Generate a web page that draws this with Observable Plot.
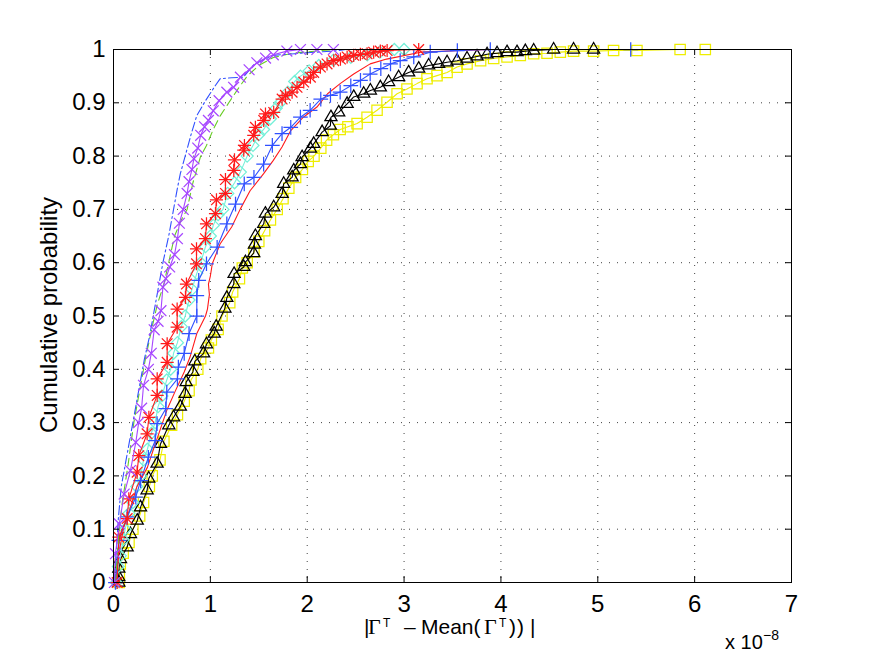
<!DOCTYPE html>
<html>
<head>
<meta charset="utf-8">
<script src="https://cdn.jsdelivr.net/npm/d3@7"></script>
<script src="https://cdn.jsdelivr.net/npm/@observablehq/plot@0.6"></script>
<style>
html, body { margin: 0; padding: 0; background: #fff; }
#chart { width: 872px; height: 655px; }
</style>
</head>
<body>
<div id="chart"></div>
<script>
// x values are in units of 1e-8
const xTicks = [0, 1, 2, 3, 4, 5, 6, 7];
const yTicks = [0, 0.1, 0.2, 0.3, 0.4, 0.5, 0.6, 0.7, 0.8, 0.9, 1];
const yLabel = "Cumulative probability";

// Series 1: blue dash-dot line
const blueDashX = [0.01,0.03,0.05,0.08,0.13,0.18,0.23,0.28,0.32,0.37,0.41,0.46,0.51,0.57,0.62,0.66,0.69,0.74,0.80,0.86,0.95,1.05,1.10,1.22,1.34,1.45,1.65,2.00,2.27,2.40];
const blueDashY = [0,0.06,0.12,0.18,0.23,0.28,0.33,0.38,0.42,0.46,0.50,0.55,0.60,0.65,0.70,0.74,0.767,0.80,0.84,0.876,0.904,0.932,0.945,0.947,0.948,0.972,0.989,0.994,0.997,1.0];

// Series 2: green dashed line
const greenX = [0.02,0.05,0.09,0.15,0.21,0.27,0.33,0.40,0.45,0.52,0.57,0.63,0.70,0.76,0.82,0.90,0.96,1.03,1.10,1.19,1.30,1.38,1.50,1.65,1.85,2.14,2.30];
const greenY = [0,0.08,0.15,0.22,0.30,0.36,0.42,0.48,0.52,0.56,0.60,0.65,0.68,0.70,0.75,0.80,0.82,0.85,0.875,0.90,0.93,0.95,0.97,0.985,0.993,0.998,1.0];

// Series 3: purple with x markers
const purpleX = [0.01,0.02,0.06,0.11,0.175,0.23,0.26,0.29,0.31,0.36,0.39,0.42,0.46,0.49,0.51,0.54,0.58,0.63,0.66,0.68,0.72,0.76,0.78,0.81,0.83,0.87,0.90,0.94,0.98,1.03,1.09,1.17,1.24,1.31,1.40,1.48,1.57,1.65,1.79,1.93,2.10,2.27];
const purpleY = [0,0.054,0.11,0.166,0.21,0.263,0.30,0.327,0.37,0.40,0.43,0.474,0.49,0.51,0.554,0.57,0.592,0.615,0.645,0.674,0.70,0.73,0.752,0.775,0.795,0.815,0.839,0.855,0.867,0.885,0.904,0.92,0.929,0.948,0.962,0.975,0.984,0.99,0.997,1.0,1.0,1.0];

// Series 4: cyan with diamond markers
const cyanX = [0.03,0.05,0.07,0.10,0.12,0.16,0.20,0.24,0.28,0.31,0.35,0.39,0.43,0.46,0.50,0.55,0.59,0.62,0.66,0.70,0.74,0.78,0.81,0.86,0.90,0.95,1.00,1.03,1.08,1.13,1.18,1.25,1.31,1.38,1.44,1.50,1.55,1.62,1.68,1.72,1.80,1.87,1.93,2.02,2.12,2.27,2.45,2.62,2.75,2.90,3.00];
const cyanY = [0,0.03,0.05,0.08,0.10,0.13,0.15,0.18,0.20,0.23,0.25,0.28,0.30,0.33,0.35,0.38,0.40,0.43,0.45,0.48,0.50,0.53,0.55,0.58,0.60,0.63,0.65,0.67,0.69,0.70,0.73,0.75,0.77,0.80,0.82,0.84,0.85,0.87,0.89,0.90,0.92,0.94,0.95,0.96,0.97,0.98,0.985,0.99,0.995,1.0,1.0];

// Series 5: red with star markers
const redStarX = [0.038,0.055,0.141,0.158,0.244,0.261,0.347,0.365,0.451,0.451,0.554,0.554,0.657,0.657,0.743,0.753,0.857,0.857,0.949,0.960,1.053,1.063,1.156,1.156,1.242,1.249,1.345,1.352,1.448,1.465,1.551,1.569,1.654,1.741,1.775,1.844,1.895,1.964,2.033,2.067,2.136,2.205,2.274,2.343,2.412,2.480,2.549,2.618,2.686,2.755,2.825,3.151];
const redStarY = [0,0.085,0.12,0.157,0.207,0.238,0.279,0.31,0.351,0.382,0.413,0.448,0.479,0.513,0.535,0.56,0.598,0.626,0.645,0.673,0.692,0.718,0.73,0.756,0.773,0.793,0.811,0.82,0.839,0.854,0.867,0.879,0.882,0.907,0.914,0.92,0.929,0.939,0.948,0.957,0.967,0.973,0.979,0.982,0.986,0.989,0.991,0.992,0.995,0.997,0.998,1.0];

// Series 6: red solid line
const redLineX = [0.02,0.055,0.106,0.175,0.24,0.35,0.42,0.49,0.55,0.64,0.73,0.79,0.86,0.95,0.97,0.99,0.98,1.00,1.02,1.10,1.22,1.31,1.41,1.55,1.65,1.74,1.83,1.96,2.10,2.21,2.34,2.48,2.65,2.82,3.17,3.60,3.90];
const redLineY = [0,0.054,0.104,0.141,0.179,0.216,0.254,0.291,0.323,0.36,0.395,0.423,0.467,0.5,0.513,0.54,0.56,0.575,0.598,0.635,0.667,0.701,0.735,0.767,0.792,0.817,0.848,0.873,0.892,0.917,0.936,0.954,0.973,0.982,0.995,0.998,1.0];

// Series 7: blue with + markers
const bluePlusX = [0.02,0.055,0.14,0.23,0.28,0.36,0.43,0.45,0.54,0.55,0.66,0.67,0.73,0.78,0.86,0.86,0.88,0.96,1.07,1.17,1.26,1.35,1.45,1.55,1.64,1.74,1.83,1.93,2.03,2.14,2.24,2.34,2.45,2.55,2.65,2.76,2.86,2.96,3.10,3.27,3.55,3.89,5.34];
const bluePlusY = [0,0.079,0.123,0.16,0.191,0.235,0.266,0.298,0.326,0.357,0.382,0.404,0.43,0.467,0.5,0.538,0.567,0.598,0.629,0.673,0.71,0.748,0.76,0.785,0.82,0.842,0.854,0.873,0.886,0.907,0.914,0.92,0.932,0.942,0.954,0.964,0.973,0.979,0.986,0.995,0.998,1.0,1.0];

// Series 8: black with triangle markers
const blackX = [0.055,0.055,0.055,0.072,0.141,0.175,0.245,0.279,0.347,0.364,0.45,0.485,0.571,0.62,0.69,0.74,0.75,0.82,0.84,0.93,0.96,1.04,1.06,1.15,1.17,1.242,1.245,1.345,1.362,1.448,1.455,1.465,1.551,1.568,1.654,1.741,1.757,1.844,1.861,1.93,1.947,2.033,2.067,2.154,2.239,2.245,2.325,2.412,2.48,2.583,2.652,2.755,2.84,2.944,3.047,3.151,3.254,3.357,3.444,3.547,3.65,3.753,3.857,3.96,4.063,4.166,4.252,4.338,4.544,4.75,4.957];
const blackY = [0,0.01,0.026,0.044,0.066,0.091,0.116,0.141,0.173,0.195,0.223,0.26,0.295,0.31,0.33,0.354,0.376,0.395,0.415,0.43,0.447,0.467,0.48,0.514,0.534,0.56,0.579,0.592,0.601,0.618,0.634,0.65,0.673,0.692,0.704,0.729,0.748,0.76,0.773,0.785,0.798,0.814,0.823,0.845,0.857,0.873,0.882,0.898,0.911,0.917,0.923,0.929,0.939,0.948,0.957,0.964,0.970,0.973,0.976,0.979,0.983,0.987,0.991,0.993,0.995,0.995,0.997,0.998,1.0,1.0,1.0];

// Series 9: yellow with square markers
const yellowX = [0.06,0.06,0.07,0.10,0.16,0.20,0.27,0.31,0.37,0.40,0.48,0.52,0.60,0.66,0.73,0.78,0.80,0.87,0.90,0.98,1.01,1.08,1.12,1.20,1.23,1.30,1.33,1.38,1.45,1.50,1.56,1.62,1.69,1.75,1.81,1.88,1.95,2.01,2.07,2.14,2.20,2.27,2.34,2.42,2.515,2.618,2.721,2.824,2.928,3.03,3.134,3.237,3.34,3.444,3.547,3.65,3.79,3.925,4.063,4.2,4.338,4.476,4.613,4.75,4.957,5.163,5.404,5.85,6.11];
const yellowY = [0,0.015,0.035,0.055,0.075,0.10,0.125,0.15,0.18,0.20,0.23,0.265,0.295,0.315,0.34,0.36,0.38,0.40,0.42,0.44,0.455,0.475,0.50,0.525,0.545,0.57,0.59,0.60,0.62,0.64,0.66,0.68,0.70,0.72,0.74,0.76,0.775,0.79,0.80,0.815,0.83,0.84,0.85,0.855,0.861,0.873,0.886,0.901,0.917,0.926,0.936,0.945,0.951,0.957,0.967,0.973,0.979,0.983,0.986,0.989,0.992,0.993,0.995,0.997,0.997,0.998,0.998,1.0,1.0];

const series = [
  {x: yellowX,   y: yellowY,   color: "#eeee00", dash: null,      markers: [["square2", 6.6]]},
  {x: blackX,    y: blackY,    color: "#000000", dash: null,      markers: [["triangle2", 5.8]]},
  {x: cyanX,     y: cyanY,     color: "#74f0d8", dash: null,      markers: [["diamond2", 5.4]]},
  {x: redLineX,  y: redLineY,  color: "#ff1a1a", dash: null,      markers: []},
  {x: bluePlusX, y: bluePlusY, color: "#3050ff", dash: null,      markers: [["plus", 4.8]]},
  {x: redStarX,  y: redStarY,  color: "#ff1a1a", dash: null,      markers: [["plus", 4.3], ["times", 4.9]]},
  {x: greenX,    y: greenY,    color: "#66cc22", dash: "8,5",     markers: []},
  {x: blueDashX, y: blueDashY, color: "#3050ff", dash: "9,3,2,3", markers: []},
  {x: purpleX,   y: purpleY,   color: "#a646ff", dash: null,      markers: [["times", 5.0]]}
];

const W = 872, H = 655;
const mL = 113, mR = 81, mT = 49, mB = 73;
const plotW = W - mL - mR, plotH = H - mT - mB;
const tickLen = 6;
const sans = "'Liberation Sans', Arial, Helvetica, sans-serif";
const serif = "'Liberation Serif', 'Times New Roman', serif";

const marks = [
  Plot.gridX({ticks: xTicks, stroke: "#222", strokeOpacity: 0.85, strokeWidth: 1, strokeDasharray: "1,7"}),
  Plot.gridY({ticks: yTicks, stroke: "#222", strokeOpacity: 0.85, strokeWidth: 1, strokeDasharray: "1,7"})
];

for (const s of series) {
  const rows = s.x.map((x, i) => ({x, y: s.y[i]}));
  marks.push(Plot.line(rows, {x: "x", y: "y", stroke: s.color, strokeWidth: 1.1, strokeDasharray: s.dash}));
  for (const [sym, r] of s.markers) {
    marks.push(Plot.dot(rows, {x: "x", y: "y", symbol: sym, r, stroke: s.color, strokeWidth: 1.25, fill: "none"}));
  }
}

marks.push(
  Plot.tickX(xTicks, {x: d => d, insetTop: plotH - tickLen, stroke: "black"}),
  Plot.tickX(xTicks, {x: d => d, insetBottom: plotH - tickLen, stroke: "black"}),
  Plot.tickY(yTicks, {y: d => d, insetRight: plotW - tickLen, stroke: "black"}),
  Plot.tickY(yTicks, {y: d => d, insetLeft: plotW - tickLen, stroke: "black"}),
  Plot.frame({stroke: "black", strokeWidth: 1}),
  Plot.axisX({ticks: xTicks, tickSize: 0, tickPadding: 12, label: null, fontSize: 24,
    tickFormat: d => String(d)}),
  Plot.axisY({ticks: yTicks, tickSize: 0, tickPadding: 8, label: null, fontSize: 24,
    tickFormat: d => (d === 0 || d === 1) ? String(d) : d.toFixed(1)})
);

const svg = Plot.plot({
  width: W, height: H,
  marginLeft: mL, marginRight: mR, marginTop: mT, marginBottom: mB,
  x: {domain: [0, 7], label: null},
  y: {domain: [0, 1], label: null},
  style: {fontFamily: sans, fontSize: "24px", background: "white", color: "black"},
  marks
});

const sel = d3.select(svg);

// x label: |Γ^T – Mean(Γ^T)|
const xlBase = 634, xlSup = 627;
const xl = sel.append("text")
  .attr("text-anchor", "start")
  .attr("font-size", 21).attr("font-family", sans).attr("fill", "black");
const piece = (txt, x, y, opts = {}) => {
  const t = xl.append("tspan").attr("x", x).attr("y", y).text(txt);
  if (opts.serif) t.attr("font-family", serif);
  if (opts.size) t.attr("font-size", opts.size);
};
piece("|", 364, xlBase);
piece("Γ", 368, xlBase, {serif: true, size: 22});
piece("T", 383, xlSup, {size: 12});
piece("–", 404, xlBase);
piece("Mean(", 421, xlBase);
piece("Γ", 484, xlBase, {serif: true, size: 22});
piece("T", 499, xlSup, {size: 12});
piece(")", 509, xlBase);
piece(")", 517, xlBase);
piece("|", 530, xlBase);

// exponent label: x 10^-8
const ex = sel.append("text")
  .attr("text-anchor", "start")
  .attr("font-size", 20).attr("font-family", sans).attr("fill", "black");
ex.append("tspan").attr("x", 725).attr("y", 649).text("x 10");
ex.append("tspan").attr("x", 763).attr("y", 640).attr("font-size", 14).text("−8");

// y label
sel.append("text")
  .attr("transform", "translate(57,315) rotate(-90)")
  .attr("text-anchor", "middle").attr("font-size", 24)
  .attr("font-family", sans).attr("fill", "black")
  .text(yLabel);

document.getElementById("chart").appendChild(svg);
</script>
</body>
</html>
